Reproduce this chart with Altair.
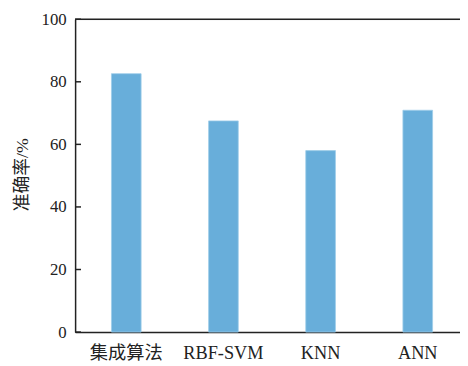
import altair as alt
import pandas as pd

methods = ["集成算法", "RBF-SVM", "KNN", "ANN"]
accuracy = [82.6, 67.5, 58.0, 70.9]
y_ticks = [0, 20, 40, 60, 80, 100]

df = pd.DataFrame({"method": methods, "acc": accuracy})
ticks_df = pd.DataFrame({"t": y_ticks})

FONT = "'Liberation Serif', 'Times New Roman', 'Noto Sans CJK SC'"
TXT = "#222222"
H = 317
W = 390

yscale = alt.Scale(domain=[0, 100], nice=False, zero=True)

bars = alt.Chart(df).mark_bar(color="#68AEDA", stroke="#9fcdea", strokeWidth=0.8).encode(
    x=alt.X("method:N", sort=methods, title=None,
            scale=alt.Scale(paddingInner=0.6945, paddingOuter=0.328, align=0.57),
            axis=alt.Axis(labelAngle=0, ticks=False, labelPadding=12, labelFont=FONT,
                          labelFontSize=18.5, labelColor=TXT, domainColor=TXT,
                          domainWidth=1.5, grid=False)),
    y=alt.Y("acc:Q", scale=yscale, title="准确率/%",
            axis=alt.Axis(values=y_ticks, ticks=False, labelPadding=9, labelFont=FONT,
                          labelFontSize=17, labelColor=TXT, domainColor=TXT,
                          domainWidth=1.5, grid=False, titleFont=FONT,
                          titleFontSize=18, titleFontWeight="normal", titleColor=TXT,
                          titleX=-53, titleY=157, titleAngle=270,
                          titleAlign="center", titleBaseline="middle")),
)

tick_marks = alt.Chart(ticks_df).mark_rule(color=TXT, strokeWidth=1.5).encode(
    x=alt.value(0), x2=alt.value(6),
    y=alt.Y("t:Q", scale=yscale),
)

top_line = alt.Chart(ticks_df).transform_filter(alt.datum.t == 100).mark_rule(
    color=TXT, strokeWidth=1.5).encode(
    x=alt.value(0), x2=alt.value(W),
    y=alt.Y("t:Q", scale=yscale),
)

chart = alt.layer(bars, tick_marks, top_line).properties(
    width=W, height=H,
    autosize=alt.AutoSizeParams(type="none"),
    padding={"left": 68, "top": 9, "right": 0, "bottom": 32},
).configure_view(stroke=None).configure(background="white")

chart.save("out.html", embed_options={"renderer": "svg", "actions": False})
